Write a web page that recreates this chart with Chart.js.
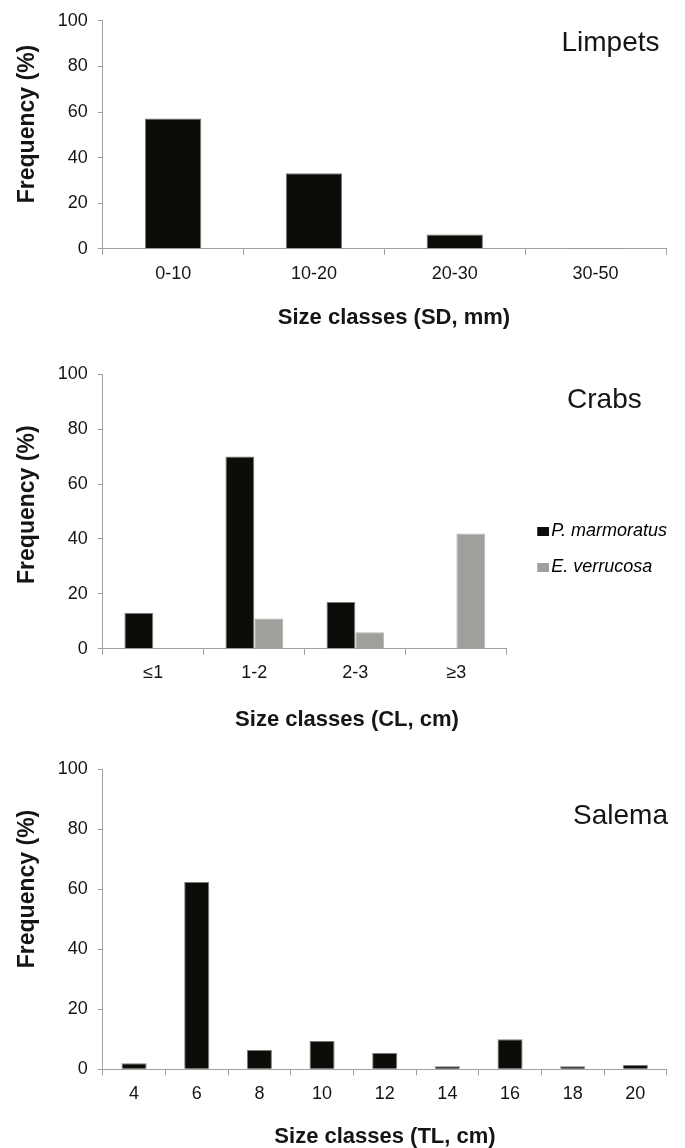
<!DOCTYPE html>
<html>
<head>
<meta charset="utf-8">
<script src="https://cdn.jsdelivr.net/npm/chart.js@4.4.1/dist/chart.umd.min.js"></script>
<style>
  html, body { margin: 0; padding: 0; background: #fff; }
  body { width: 685px; height: 1148px; position: relative; overflow: hidden; }
  canvas { position: absolute; left: 0; }
</style>
</head>
<body>
<canvas id="limpets" width="685" height="340" style="top:0px"></canvas>
<canvas id="crabs" width="685" height="398" style="top:340px"></canvas>
<canvas id="salema" width="685" height="410" style="top:738px"></canvas>
<script>
// Size-class frequency distributions (%)
const limpetClasses = ['0-10', '10-20', '20-30', '30-50'];
const limpetFreq = [57.1, 33.1, 6.3, 0.4];

const crabClasses = ['≤1', '1-2', '2-3', '≥3'];
const marmoratusFreq = [13, 70, 17, 0];
const verrucosaFreq = [0, 11, 6, 42];

const salemaClasses = ['4', '6', '8', '10', '12', '14', '16', '18', '20'];
const salemaFreq = [2.0, 62.4, 6.4, 9.4, 5.4, 1.0, 10.0, 1.0, 1.4];

const yTicks = [0, 20, 40, 60, 80, 100];

const FONT = '"Liberation Sans", Arial, Helvetica, sans-serif';
const INK = '#151515';
const AXIS_GRAY = '#a0a0a0';
const BAR_BLACK = '#0c0c09';
const BAR_GRAY = '#a09f9c';

Chart.defaults.font.family = FONT;
Chart.defaults.color = INK;
Chart.defaults.animation = false;

// Panel name (top right), x-axis title and rotated y-axis title
const panelText = {
  id: 'panelText',
  afterDraw(chart, args, o) {
    const ctx = chart.ctx;
    ctx.save();
    ctx.fillStyle = INK;

    ctx.font = '28px ' + FONT;
    ctx.textAlign = 'right';
    ctx.textBaseline = 'alphabetic';
    ctx.fillText(o.title, o.titleRight, o.titleBaseline);

    ctx.font = 'bold 22px ' + FONT;
    ctx.textAlign = 'center';
    ctx.textBaseline = 'middle';
    ctx.fillText(o.xTitle, o.xTitleCenter, o.xTitleMiddle);

    ctx.font = 'bold 23px ' + FONT;
    ctx.textBaseline = 'alphabetic';
    ctx.translate(o.yTitleBaseline, o.yTitleCenter);
    ctx.rotate(-Math.PI / 2);
    ctx.fillText(o.yTitle, 0, 0);
    ctx.restore();
  }
};

// Moves the legend block after layout without changing the plot area
const legendNudge = {
  id: 'legendNudge',
  afterLayout(chart, args, o) {
    const lg = chart.legend;
    if (!lg || !o || (!o.dx && !o.dy)) return;
    lg.left += o.dx; lg.right += o.dx;
    lg.top += o.dy; lg.bottom += o.dy;
  }
};

// Legend swatch: 12x9 colour block sitting close to its label
function legendSwatch(color) {
  const c = document.createElement('canvas');
  c.width = 15;
  c.height = 9;
  const g = c.getContext('2d');
  g.fillStyle = color;
  g.fillRect(3, 0, 12, 9);
  return c;
}

function yScale() {
  return {
    min: 0,
    max: 100,
    afterBuildTicks: (scale) => { scale.ticks = yTicks.map(v => ({ value: v })); },
    ticks: { padding: 10, font: { size: 18 }, color: INK },
    grid: { drawOnChartArea: false, drawTicks: true, tickLength: 5, color: AXIS_GRAY, lineWidth: 1 },
    border: { display: true, color: AXIS_GRAY, width: 1 }
  };
}

function xScale() {
  return {
    type: 'category',
    offset: true,
    ticks: { padding: 8, font: { size: 18 }, color: INK, maxRotation: 0, autoSkip: false },
    grid: { drawOnChartArea: false, drawTicks: true, tickLength: 6, color: AXIS_GRAY, lineWidth: 1, offset: true },
    border: { display: true, color: AXIS_GRAY, width: 1 }
  };
}

function barSet(label, data, fill, edge, catPct) {
  return {
    label: label,
    data: data,
    backgroundColor: fill,
    borderColor: edge,
    borderWidth: 1,
    categoryPercentage: catPct,
    barPercentage: 1
  };
}

// Limpets
new Chart(document.getElementById('limpets'), {
  type: 'bar',
  data: {
    labels: limpetClasses,
    datasets: [barSet('Limpets', limpetFreq, BAR_BLACK, '#7a7a7a', 0.4)]
  },
  options: {
    responsive: false,
    devicePixelRatio: 1,
    layout: { padding: { top: 20, left: 47.7, right: 19, bottom: 47.6 } },
    scales: { x: xScale(), y: yScale() },
    plugins: {
      legend: { display: false },
      tooltip: { enabled: false },
      panelText: { title: 'Limpets', titleRight: 659.5, titleBaseline: 50.7,
                   xTitle: 'Size classes (SD, mm)', xTitleCenter: 394, xTitleMiddle: 318,
                   yTitle: 'Frequency (%)', yTitleBaseline: 33.5, yTitleCenter: 124 }
    }
  },
  plugins: [panelText]
});

// Crabs
new Chart(document.getElementById('crabs'), {
  type: 'bar',
  data: {
    labels: crabClasses,
    datasets: [
      barSet('P. marmoratus', marmoratusFreq, BAR_BLACK, '#7a7a7a', 0.571),
      barSet('E. verrucosa', verrucosaFreq, BAR_GRAY, '#b4b4b4', 0.571)
    ]
  },
  options: {
    responsive: false,
    devicePixelRatio: 1,
    layout: { padding: { top: 34.3, left: 47.7, right: 25, bottom: 45.7 } },
    scales: { x: xScale(), y: yScale() },
    plugins: {
      legend: {
        display: true,
        position: 'right',
        align: 'center',
        labels: {
          usePointStyle: true,
          pointStyleWidth: 1,
          boxHeight: 9,
          padding: 18,
          color: INK,
          font: { size: 18, style: 'italic' },
          generateLabels: (chart) => chart.data.datasets.map((ds, i) => ({
            text: ds.label,
            fillStyle: ds.backgroundColor,
            strokeStyle: ds.backgroundColor,
            lineWidth: 0,
            pointStyle: legendSwatch(ds.backgroundColor),
            hidden: false,
            datasetIndex: i
          }))
        }
      },
      legendNudge: { dx: 16.3, dy: 15.7 },
      tooltip: { enabled: false },
      panelText: { title: 'Crabs', titleRight: 641.7, titleBaseline: 67.7,
                   xTitle: 'Size classes (CL, cm)', xTitleCenter: 347, xTitleMiddle: 380,
                   yTitle: 'Frequency (%)', yTitleBaseline: 33.5, yTitleCenter: 164.7 }
    }
  },
  plugins: [panelText, legendNudge]
});

// Salema
new Chart(document.getElementById('salema'), {
  type: 'bar',
  data: {
    labels: salemaClasses,
    datasets: [barSet('Salema', salemaFreq, BAR_BLACK, '#7a7a7a', 0.4)]
  },
  options: {
    responsive: false,
    devicePixelRatio: 1,
    layout: { padding: { top: 31, left: 47.7, right: 18.3, bottom: 35.1 } },
    scales: { x: xScale(), y: yScale() },
    plugins: {
      legend: { display: false },
      tooltip: { enabled: false },
      panelText: { title: 'Salema', titleRight: 668, titleBaseline: 86,
                   xTitle: 'Size classes (TL, cm)', xTitleCenter: 385, xTitleMiddle: 398.7,
                   yTitle: 'Frequency (%)', yTitleBaseline: 33.5, yTitleCenter: 151 }
    }
  },
  plugins: [panelText]
});
</script>
</body>
</html>
